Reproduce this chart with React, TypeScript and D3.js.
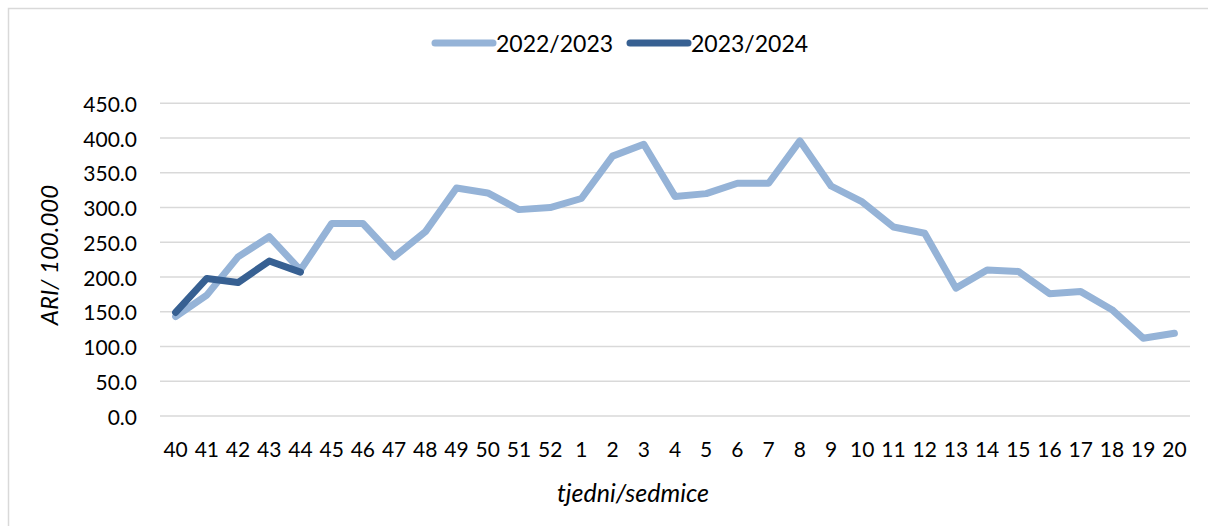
import React from "react";
import * as d3 from "d3";

// weeks shown on the x axis (season runs from week 40 to week 20)
const weeks = ["40", "41", "42", "43", "44", "45", "46", "47", "48", "49", "50", "51", "52",
  "1", "2", "3", "4", "5", "6", "7", "8", "9", "10", "11", "12", "13", "14", "15", "16", "17", "18", "19", "20"];

const season2223 = [143, 174, 229, 258, 210, 277, 277, 229, 265, 328, 321, 297, 300,
  313, 374, 391, 316, 320, 335, 335, 396, 331, 308, 272, 263, 184, 210, 208, 176, 179, 153, 112, 119];

const season2324 = [149, 198, 192, 223, 207];

const yTicks = [0, 50, 100, 150, 200, 250, 300, 350, 400, 450];

const seriesNames = ["2022/2023", "2023/2024"];
const colors = ["#95B3D7", "#376092"];

const W = 1208, H = 526;
const font = "Lato, 'Open Sans', sans-serif";

export default function App() {
  const x = d3.scalePoint<string>().domain(weeks).range([160, 1190]).padding(0.5);
  const y = d3.scaleLinear().domain([0, 450]).range([416, 103.3]);

  const line = d3.line<number>()
    .x((d, i) => x(weeks[i]) as number)
    .y(d => y(d));

  const series = [season2223, season2324];

  return (
    <svg width={W} height={H} style={{ position: "fixed", left: 0, top: 0, background: "#fff" }}>
      <rect x={8.5} y={8.5} width={W + 10} height={H + 10} fill="#fff" stroke="#d9d9d9" strokeWidth={1.5} />

      {/* legend */}
      <g fontFamily={font} fontSize={23} fill="#000">
        {seriesNames.map((name, i) => {
          const lx = 435 + i * 195;
          return (
            <g key={name}>
              <line x1={lx} x2={lx + 58} y1={43} y2={43} stroke={colors[i]} strokeWidth={7} strokeLinecap="round" />
              <text x={lx + 61} y={43} dominantBaseline="central">{name}</text>
            </g>
          );
        })}
      </g>

      {/* grid + y labels */}
      <g fontFamily={font} fontSize={21} fill="#000">
        {yTicks.map(t => (
          <g key={t}>
            <line x1={160} x2={1190} y1={y(t)} y2={y(t)} stroke="#d9d9d9" strokeWidth={1.5} />
            <text x={137} y={y(t)} textAnchor="end" dominantBaseline="central">{d3.format(".1f")(t)}</text>
          </g>
        ))}
        {weeks.map(w => (
          <text key={w} x={x(w)} y={448} textAnchor="middle" dominantBaseline="central">{w}</text>
        ))}
      </g>

      {/* lines */}
      {series.map((s, i) => (
        <path key={i} d={line(s) || ""} fill="none" stroke={colors[i]} strokeWidth={7}
          strokeLinejoin="round" strokeLinecap="round" />
      ))}

      {/* axis titles */}
      <text x={633} y={492} textAnchor="middle" dominantBaseline="central" fontFamily={font}
        fontStyle="italic" fontSize={25}>tjedni/sedmice</text>
      <text transform="translate(48,255) rotate(-90)" textAnchor="middle" dominantBaseline="central"
        fontFamily={font} fontStyle="italic" fontSize={24}>ARI/ 100.000</text>
    </svg>
  );
}
